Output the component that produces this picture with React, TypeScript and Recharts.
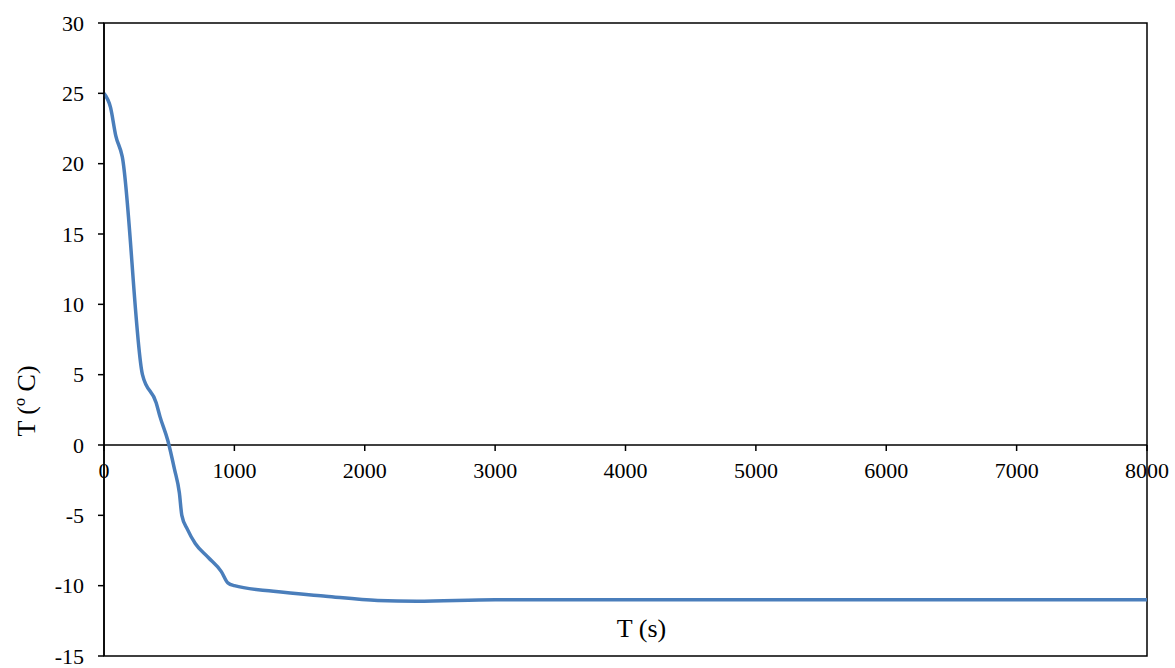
import React from 'react';
import { LineChart, Line, XAxis, YAxis, ReferenceLine, ReferenceArea, Label } from 'recharts';

const TIMES = [0, 50, 90, 140, 295, 400, 430, 490, 540, 578, 597, 640, 700, 800, 900, 950, 1000, 1300, 1700, 2100, 2400, 3000, 4000, 5000, 6000, 7000, 8000];
const TEMPS = [25, 24, 22, 20.5, 5, 3, 2, 0.3, -1.7, -3.4, -5, -6, -7, -8, -9, -9.8, -10, -10.4, -10.75, -11.05, -11.1, -11, -11, -11, -11, -11, -11];
const X_TICKS = [0, 1000, 2000, 3000, 4000, 5000, 6000, 7000, 8000];
const Y_TICKS = [-15, -10, -5, 0, 5, 10, 15, 20, 25, 30];

const data = TIMES.map((t, i) => ({ t, T: TEMPS[i] }));

const W = 1175;
const H = 668;
const X_AXIS_H = 12;
const MARGIN = { top: 23, right: 28, bottom: 0, left: 0 };
const Y_AXIS_W = 104;
const Y_MIN = -15;
const Y_MAX = 30;
const PLOT_H = H - MARGIN.top - MARGIN.bottom - X_AXIS_H;
const PLOT_W = W - MARGIN.left - MARGIN.right - Y_AXIS_W;
const Y_ZERO_PX = MARGIN.top + (PLOT_H * Y_MAX) / (Y_MAX - Y_MIN);
const FONT = '"Liberation Serif", "Times New Roman", serif';

const XTick = (props: any) => {
  const { x, payload } = props;
  return (
    <g>
      <line x1={x} x2={x} y1={Y_ZERO_PX} y2={Y_ZERO_PX + 6} stroke="#000" strokeWidth={1.5} />
      <text x={x} y={Y_ZERO_PX + 33} textAnchor="middle" fontFamily={FONT} fontSize={22} fill="#000">
        {payload.value}
      </text>
    </g>
  );
};

export default function App() {
  return (
    <div style={{ position: 'absolute', left: 0, top: 0, width: W, height: H, background: '#fff' }}>
      <LineChart width={W} height={H} data={data} margin={MARGIN}>
        <ReferenceArea x1={0} x2={8000} y1={-15} y2={30} fill="none" stroke="#000" strokeWidth={1.5} />
        <XAxis
          dataKey="t"
          type="number"
          domain={[0, 8000]}
          ticks={X_TICKS}
          interval={0}
          axisLine={false}
          tickLine={false}
          height={X_AXIS_H}
          tick={<XTick />}
        >
          <Label
            content={() => (
              <text
                x={MARGIN.left + Y_AXIS_W + PLOT_W / 2 + 16}
                y={637}
                textAnchor="middle"
                fontFamily={FONT}
                fontSize={26}
                fill="#000"
              >
                T (s)
              </text>
            )}
          />
        </XAxis>
        <YAxis
          type="number"
          domain={[Y_MIN, Y_MAX]}
          ticks={Y_TICKS}
          interval={0}
          width={Y_AXIS_W}
          tickSize={6}
          tickMargin={14}
          axisLine={{ stroke: '#000', strokeWidth: 1.5 }}
          tickLine={{ stroke: '#000', strokeWidth: 1.5 }}
          tick={{ fontFamily: FONT, fontSize: 22, fill: '#000' }}
        >
          <Label
            content={() => (
              <text
                x={35}
                y={401}
                transform="rotate(-90, 35, 401)"
                textAnchor="middle"
                fontFamily={FONT}
                fontSize={26}
                fill="#000"
              >
                T (º C)
              </text>
            )}
          />
        </YAxis>
        <ReferenceLine y={0} stroke="#000" strokeWidth={1.5} />
        <Line
          type="monotone"
          dataKey="T"
          stroke="#4a7ebb"
          strokeWidth={3.5}
          dot={false}
          isAnimationActive={false}
        />
      </LineChart>
    </div>
  );
}
